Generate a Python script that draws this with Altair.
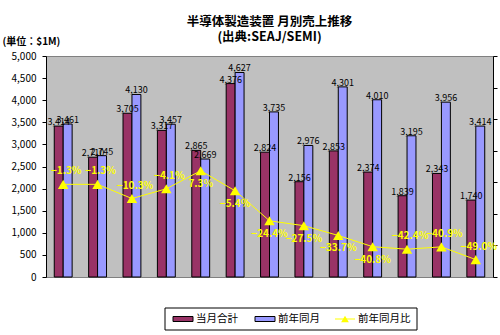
import altair as alt
import pandas as pd

# ---------------- data ----------------
months = ["Oct-07", "Nov-07", "Dec-07", "Jan-08", "Feb-08", "Mar-08", "Apr-08",
          "May-08", "Jun-08", "Jul-08", "Aug-08", "Sep-08", "Oct-08"]
current_month = [3414, 2710, 3705, 3317, 2865, 4376, 2824, 2156, 2853, 2374, 1839, 2343, 1740]
prev_year = [3461, 2745, 4130, 3457, 2669, 4627, 3735, 2976, 4301, 4010, 3195, 3956, 3414]
yoy_pct = [-1.3, -1.3, -10.3, -4.1, 7.3, -5.4, -24.4, -27.5, -33.7, -40.8, -42.4, -40.9, -49.0]
series_names = ["当月合計", "前年同月", "前年同月比"]
y_ticks = list(range(0, 5001, 500))
y2_ticks = list(range(-60, 81, 20))
# months whose % label sits below the marker
yoy_label_below = ["Feb-08", "Mar-08", "Apr-08", "May-08", "Jun-08", "Jul-08"]

title_lines = ["半導体製造装置 月別売上推移", "(出典:SEAJ/SEMI)"]
unit_label = "(単位：$1M)"

# ---------------- styles ----------------
FONT = "Noto Sans CJK JP"
MAROON = "#993366"
BLUE = "#9999FF"
YELLOW = "#FFFF00"

bar_df = pd.DataFrame({
    "month": months * 2,
    "series": [series_names[0]] * len(months) + [series_names[1]] * len(months),
    "value": current_month + prev_year,
})
line_df = pd.DataFrame({"month": months, "yoy": yoy_pct})
line_df["pos"] = ["below" if m in yoy_label_below else "above" for m in months]

x_scale = alt.Scale(paddingInner=0.48, paddingOuter=0.24)
x_enc = alt.X("month:N", sort=months, scale=x_scale,
              axis=alt.Axis(title=None, labelAngle=0, ticks=False, tickSize=0,
                            labelPadding=9, domain=True, domainColor="black",
                            domainWidth=1, labelFontSize=9.5,
                            labelColor="black"))
x_plain = alt.X("month:N", sort=months, scale=x_scale, axis=None)
xoff = alt.XOffset("series:N", sort=series_names[:2],
                   scale=alt.Scale(paddingInner=0, paddingOuter=0))

y_left_scale = alt.Scale(domain=[0, 5000], nice=False)

bars = alt.Chart(bar_df).mark_bar(stroke="black", strokeWidth=1).encode(
    x=x_enc,
    xOffset=xoff,
    y=alt.Y("value:Q", scale=y_left_scale,
            axis=alt.Axis(values=y_ticks, format=",d", grid=False,
                          domain=True, domainColor="black", domainWidth=1,
                          orient="left",
                          tickSize=4, tickColor="black", labelPadding=6,
                          labelFontSize=10, labelColor="black",
                          title=unit_label, titleAngle=0, titleAlign="left",
                          titleBaseline="alphabetic", titleX=-44, titleY=-12,
                          titleFontSize=10, titleFontWeight="bold",
                          titleColor="black")),
    color=alt.Color("series:N", scale=alt.Scale(domain=series_names[:2],
                                                range=[MAROON, BLUE]),
                    legend=None),
)

bar_text = alt.Chart(bar_df).mark_text(
    baseline="alphabetic", dy=-1, fontSize=9, color="black", font=FONT
).encode(
    x=x_plain,
    xOffset=xoff,
    y=alt.Y("value:Q", scale=y_left_scale, axis=None),
    text=alt.Text("value:Q", format=",d"),
)

y_right_scale = alt.Scale(domain=[-60, 80], nice=False)

line = alt.Chart(line_df).mark_line(color=YELLOW, strokeWidth=1).encode(
    x=x_plain,
    y=alt.Y("yoy:Q", scale=y_right_scale,
            axis=alt.Axis(orient="right", values=y2_ticks, labels=False,
                          title=None, grid=False, domain=True,
                          domainColor="black", domainWidth=1, tickSize=4,
                          tickColor="black")),
)
points = alt.Chart(line_df).mark_point(
    shape="triangle-up", filled=True, color=YELLOW, size=110, opacity=1
).encode(x=x_plain, y=alt.Y("yoy:Q", scale=y_right_scale, axis=None))

pct_base = alt.Chart(line_df).transform_calculate(
    label="format(datum.yoy / 100, '.1%')"
)
pct_above = pct_base.transform_filter("datum.pos == 'above'").mark_text(
    color=YELLOW, fontWeight="bold", fontSize=10, dy=-13, dx=3, font=FONT
).encode(x=x_plain, y=alt.Y("yoy:Q", scale=y_right_scale, axis=None),
         text="label:N")
pct_below = pct_base.transform_filter("datum.pos == 'below'").mark_text(
    color=YELLOW, fontWeight="bold", fontSize=10, dy=13, font=FONT
).encode(x=x_plain, y=alt.Y("yoy:Q", scale=y_right_scale, axis=None),
         text="label:N")

# ---------------- manual legend ----------------
one = alt.Data(values=[{}])
leg_box = alt.Chart(one).mark_rect(fill="white", stroke="black", strokeWidth=1).encode(
    x=alt.value(119), x2=alt.value(371), y=alt.value(252), y2=alt.value(274))
leg_sw1 = alt.Chart(one).mark_rect(fill=MAROON, stroke="black", strokeWidth=1).encode(
    x=alt.value(127), x2=alt.value(147), y=alt.value(260.5), y2=alt.value(265.5))
leg_sw2 = alt.Chart(one).mark_rect(fill=BLUE, stroke="black", strokeWidth=1).encode(
    x=alt.value(209), x2=alt.value(229), y=alt.value(260.5), y2=alt.value(265.5))
leg_line = alt.Chart(one).mark_rule(color=YELLOW, strokeWidth=1).encode(
    x=alt.value(289), x2=alt.value(309), y=alt.value(263))
leg_tri = alt.Chart(one).mark_point(shape="triangle-up", filled=True, color=YELLOW,
                                    size=60, opacity=1).encode(
    x=alt.value(299), y=alt.value(263))

def leg_text(label, xpos):
    return alt.Chart(one).mark_text(
        text=label, align="left", baseline="middle", fontSize=10.5,
        color="black", font=FONT
    ).encode(x=alt.value(xpos), y=alt.value(263))

chart = alt.layer(
    bars, bar_text, line, points, pct_above, pct_below,
    leg_box, leg_sw1, leg_sw2, leg_line, leg_tri,
    leg_text(series_names[0], 150),
    leg_text(series_names[1], 232),
    leg_text(series_names[2], 312),
).resolve_scale(
    y="independent"
).properties(
    width=447,
    height=221,
    autosize=alt.AutoSizeParams(type="none"),
    padding={"left": 46, "top": 56, "right": 7, "bottom": 58},
    title=alt.TitleParams(text=title_lines, anchor="middle", frame="group",
                          fontSize=12.5, fontWeight="bold", offset=-7,
                          lineHeight=15, color="black", font=FONT),
    background="white",
).configure(
    font=FONT
).configure_axis(
    labelFont=FONT, titleFont=FONT
).configure_view(
    fill="#C0C0C0", stroke="#808080", strokeWidth=1
)

chart.save("out.html", embed_options={"renderer": "svg", "actions": False})
